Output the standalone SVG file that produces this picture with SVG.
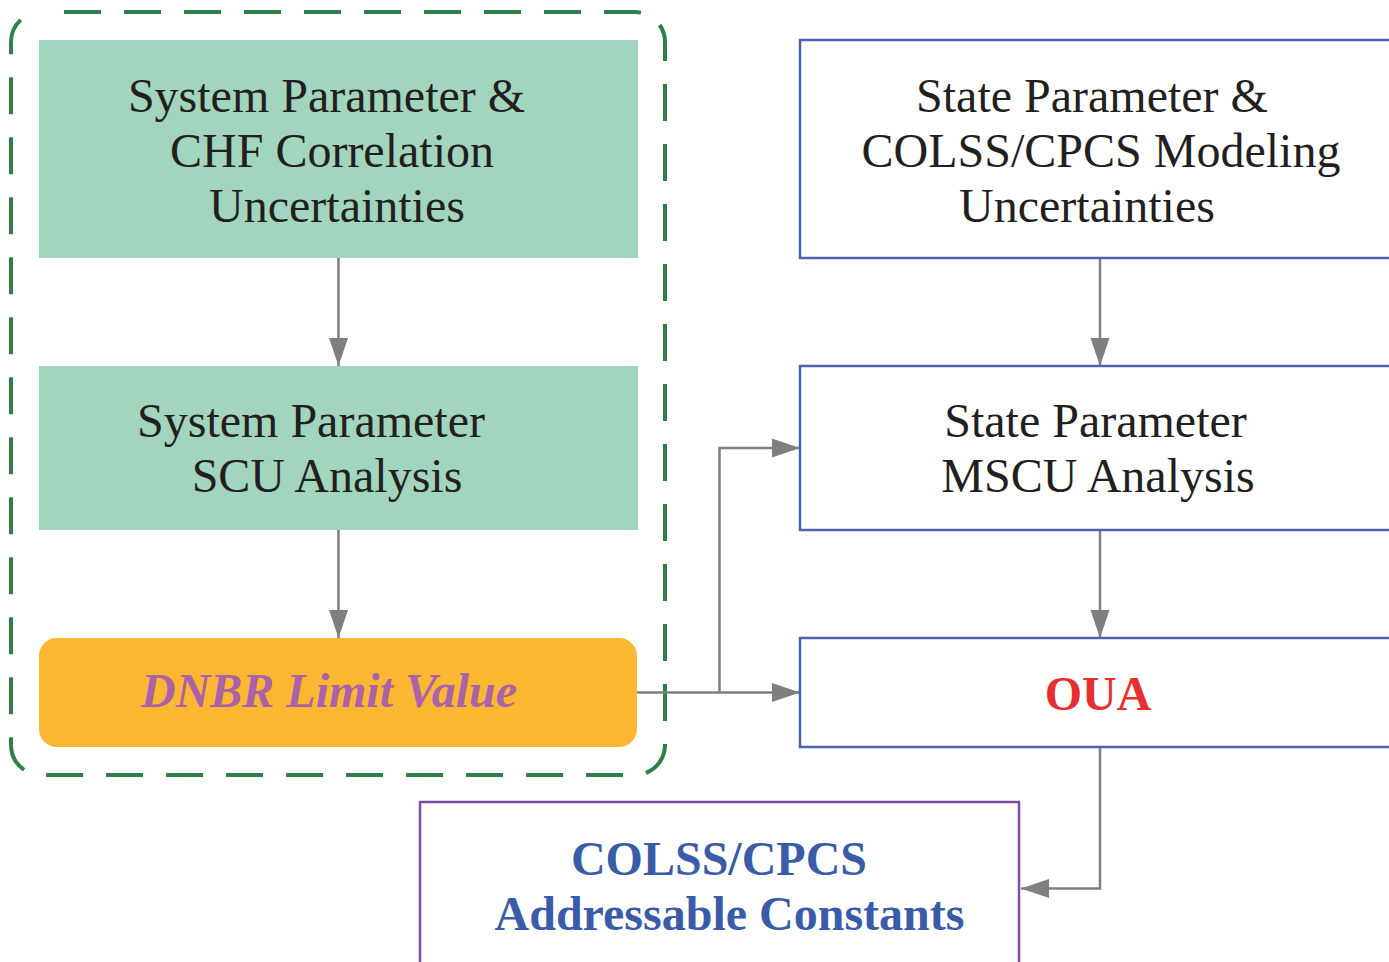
<svg xmlns="http://www.w3.org/2000/svg" width="1389" height="962" viewBox="0 0 1389 962">
  <defs>
    <style>
      .t { font-family: "Liberation Serif", "Times New Roman", serif; font-size: 48px; fill: #231f20; text-anchor: middle; }
      .b { font-weight: bold; }
      .green { fill: #a2d5bd; }
      .blue { fill: #ffffff; stroke: #4e63ad; stroke-width: 2.5; }
      .purple { fill: #ffffff; stroke: #7c4ea3; stroke-width: 2.5; }
      .conn { fill: none; stroke: #7f7f7f; stroke-width: 2.5; }
    </style>
    <marker id="arr" markerUnits="userSpaceOnUse" markerWidth="30" markerHeight="22" refX="28" refY="9.5" orient="auto">
      <path d="M0,0 L28,9.5 L0,19 Z" fill="#7f7f7f"/>
    </marker>
  </defs>
  <rect width="1389" height="962" fill="#ffffff"/>

  <g id="group-border">
    <path d="M41,12 H635 A30,30 0 0 1 665,42 V745 A30,30 0 0 1 635,775 H41 A30,30 0 0 1 11,745 V42 A30,30 0 0 1 41,12 Z" fill="none" stroke="#2f8048" stroke-width="4" stroke-dasharray="37 23" stroke-dashoffset="37"/>
  </g>

  <g id="connectors">
    <path class="conn" d="M338.5,258 V366" marker-end="url(#arr)"/>
    <path class="conn" d="M338.5,530 V638" marker-end="url(#arr)"/>
    <path class="conn" d="M1100,258 V366" marker-end="url(#arr)"/>
    <path class="conn" d="M1100,530 V638" marker-end="url(#arr)"/>
    <path class="conn" d="M637,692.5 H800" marker-end="url(#arr)"/>
    <path class="conn" d="M719.5,692.5 V448 H800" marker-end="url(#arr)"/>
    <path class="conn" d="M1100,747 V888.5 H1021" marker-end="url(#arr)"/>
  </g>

  <g id="node-sys-uncert">
    <rect class="green" x="39" y="40" width="599" height="218"/>
    <text class="t" x="326.5" y="112">System Parameter &amp;</text>
    <text class="t" x="332" y="167">CHF Correlation</text>
    <text class="t" x="337" y="222">Uncertainties</text>
  </g>

  <g id="node-sys-scu">
    <rect class="green" x="39" y="366" width="599" height="164"/>
    <text class="t" x="311" y="437">System Parameter</text>
    <text class="t" x="327" y="492">SCU Analysis</text>
  </g>

  <g id="node-dnbr">
    <rect x="39" y="638" width="598" height="109" rx="18" ry="18" fill="#fcb732"/>
    <text class="t b" x="329" y="707" font-style="italic" fill="#ab62a9" style="fill:#ab62a9">DNBR Limit Value</text>
  </g>

  <g id="node-state-uncert">
    <rect class="blue" x="800" y="40" width="600" height="218"/>
    <text class="t" x="1092" y="112">State Parameter &amp;</text>
    <text class="t" x="1101" y="167">COLSS/CPCS Modeling</text>
    <text class="t" x="1087" y="222">Uncertainties</text>
  </g>

  <g id="node-state-mscu">
    <rect class="blue" x="800" y="366" width="600" height="164"/>
    <text class="t" x="1095.5" y="437">State Parameter</text>
    <text class="t" x="1098" y="492">MSCU Analysis</text>
  </g>

  <g id="node-oua">
    <rect class="blue" x="800" y="638" width="600" height="109"/>
    <text class="t b" x="1098" y="710" style="fill:#e5302f">OUA</text>
  </g>

  <g id="node-constants">
    <rect class="purple" x="420" y="802" width="599" height="180"/>
    <text class="t b" x="719" y="875" style="fill:#3a5ca8">COLSS/CPCS</text>
    <text class="t b" x="729.5" y="930" style="fill:#3a5ca8">Addressable Constants</text>
  </g>
</svg>
